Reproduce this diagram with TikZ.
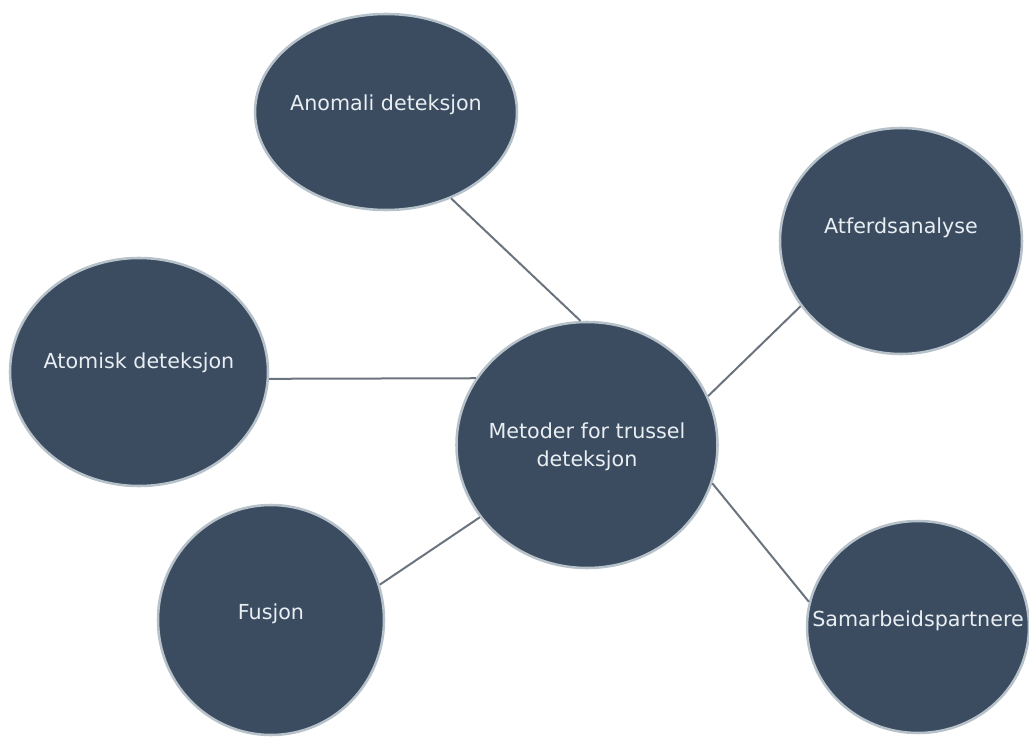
\documentclass[tikz,border=0pt]{standalone}
\usepackage{fontspec}
\setmainfont{DejaVu Sans}
\usetikzlibrary{shapes.geometric}
\definecolor{bubblefill}{HTML}{3B4C61}
\definecolor{bubbleedge}{HTML}{B7C1C9}
\definecolor{linkgray}{HTML}{6B747E}
\definecolor{bubbletext}{HTML}{E9EEF2}
\begin{document}
\begin{tikzpicture}[x=0.75pt,y=-0.75pt,
  bubble/.style 2 args={ellipse, draw=bubbleedge, line width=1.9pt, fill=bubblefill,
    inner sep=0pt, minimum width=#1*0.75pt, minimum height=#2*0.75pt},
  caption/.style={text=bubbletext, font=\fontsize{15.5}{21}\selectfont, align=center},
  link/.style={draw=linkgray, line width=1.5pt}]
\path[use as bounding box] (0,0) rectangle (1029,738);

% satellite bubbles
\node[bubble={262}{196}] (anom) at (386,112) {};
\node[caption] at (386,105) {Anomali deteksjon};
\node[bubble={242}{226}] (atf) at (901,241) {};
\node[caption] at (901,228) {Atferdsanalyse};
\node[bubble={258}{228}] (atom) at (139,372) {};
\node[caption] at (139,363) {Atomisk deteksjon};
\node[bubble={226}{230}] (fus) at (271,620) {};
\node[caption] at (271,614) {Fusjon};
\node[bubble={222}{212}] (sam) at (918,627) {};
\node[caption] at (918,621) {Samarbeidspartnere};

% central bubble
\node[bubble={261}{246}] (mid) at (587,445) {};
\node[caption] at (587,447) {Metoder for trussel\\deteksjon};

% spokes from the centre
\draw[link] (anom.-53) -- (mid.93);
\draw[link] (atom.-3) -- (mid.149);
\draw[link] (atf.-147) -- (mid.22);
\draw[link] (fus.18) -- (mid.-146);
\draw[link] (mid.-17) -- (sam.167);
\end{tikzpicture}
\end{document}
